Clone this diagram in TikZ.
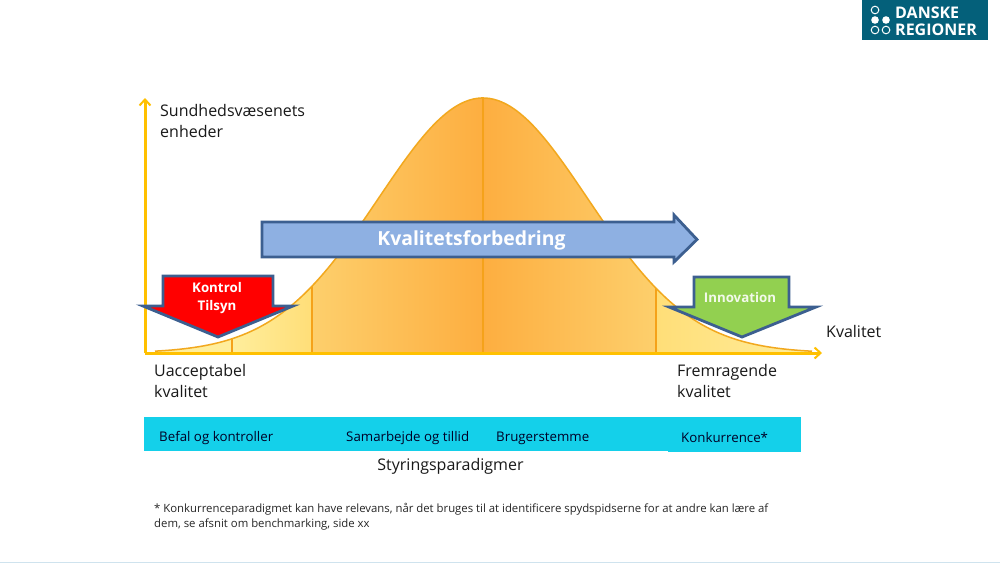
\documentclass[tikz,border=0pt]{standalone}
\usepackage{fontspec}
\setmainfont{Open Sans}
\usetikzlibrary{arrows.meta}
\definecolor{axisY}{HTML}{FFC000}
\definecolor{curveO}{HTML}{F2A81E}
\definecolor{divO}{HTML}{F5A21A}
\definecolor{paleY}{HTML}{FFEE9C}
\definecolor{midY}{HTML}{FFDE78}
\definecolor{midO}{HTML}{FDCF6C}
\definecolor{deepO}{HTML}{FDAE40}
\definecolor{blueF}{HTML}{8EB0E2}
\definecolor{blueE}{HTML}{3C5F90}
\definecolor{greenF}{HTML}{92D050}
\definecolor{cyanB}{HTML}{14D0EA}
\definecolor{logoB}{HTML}{04607A}
\definecolor{baseL}{HTML}{CFE3EE}
\tikzset{
  lbl/.style={anchor=north west,align=left,inner sep=0pt,font=\fontsize{16}{21}\selectfont,text=black!90},
  barlbl/.style={anchor=west,inner sep=0pt,font=\fontsize{13.3}{14}\selectfont,text=black!85!blue},
  foot/.style={anchor=north west,align=left,inner sep=0pt,font=\fontsize{11.35}{15}\selectfont,text=black!85},
  axisline/.style={draw=axisY,line width=3pt,-{Straight Barb[length=6pt,width=11pt,line width=2pt]}},
  divider/.style={draw=divO,line width=1.5pt},
  blockarrow/.style={draw=blueE,line width=2.8pt,miter limit=10},
  whitebold/.style={text=white,font=\bfseries,inner sep=0pt},
}
\begin{document}
\begin{tikzpicture}[x=1pt,y=-1pt]
\useasboundingbox (0,0) rectangle (1000,563);
\fill[white] (0,0) rectangle (1000,563);
% logo
\node[fill=logoB,minimum width=126pt,minimum height=40pt,inner sep=0pt] (logo) at (925,20) {};
\node[anchor=west,inner sep=0pt,text=white,align=left,font=\fontsize{16}{17}\selectfont\bfseries] (logotext) at (895,21.5) {DANSKE\\REGIONER};
\foreach \cx/\cy/\st in {875/10/draw,875/20/fill,886/20/fill,875/30/draw,886/30/draw}{
  \path[\st=white,line width=1pt] (\cx,\cy) circle (3.8);
}
% bell curve
\begin{scope}
\clip plot[domain=155:812,samples=160,smooth] (\x,{353-255*exp(-0.5*((\x-483)/104.5)*((\x-483)/104.5))}) -- (812,353) -- (155,353) -- cycle;
\fill[paleY] (150,90) rectangle (232,353);
\shade[left color=paleY,right color=midY] (232,90) rectangle (312,353);
\shade[left color=midO,right color=deepO] (312,90) rectangle (483,353);
\shade[left color=deepO,right color=midO] (483,90) rectangle (656,353);
\shade[left color=midY,right color=paleY] (656,90) rectangle (812,353);
\foreach \dx in {232,312,483,656}{ \draw[divider] (\dx,90) -- (\dx,353); }
\end{scope}
\draw[curveO,line width=1.5pt] plot[domain=155:812,samples=160,smooth] (\x,{353-255*exp(-0.5*((\x-483)/104.5)*((\x-483)/104.5))});
% axes
\coordinate (origin) at (145,353);
\coordinate (ytop) at (145,98);
\coordinate (xend) at (822,353);
\draw[axisline] (origin) -- (ytop);
\draw[axisline] (origin) -- (xend);
% quality arrow
\draw[blockarrow,fill=blueF] (262,222) -- (674,222) -- (674,215) -- (697,239.5) -- (674,262) -- (674,257) -- (262,257) -- cycle;
\node[whitebold,font=\fontsize{19.4}{20}\selectfont\bfseries] (kval) at (471.5,240.5) {Kvalitetsforbedring};
% kontrol arrow
\draw[blockarrow,fill=red] (163,276) -- (273,276) -- (273,306) -- (293,306) -- (218,337) -- (143,306) -- (163,306) -- cycle;
\node[whitebold,align=center,font=\fontsize{13.3}{18.5}\selectfont\bfseries] (kontrol) at (217,298) {Kontrol\\Tilsyn};
% innovation arrow
\draw[blockarrow,fill=greenF] (694,277) -- (789,277) -- (789,307) -- (816,307) -- (742,337) -- (669,307) -- (694,307) -- cycle;
\node[whitebold,text=white!88!greenF,font=\fontsize{13.3}{14}\selectfont\bfseries] (innov) at (740,298) {Innovation};
% labels
\node[lbl] (yl) at (160,104) {Sundhedsvæsenets\\enheder};
\node[lbl] (xl) at (826,325) {Kvalitet};
\node[lbl] (ua) at (154,364.5) {Uacceptabel\\kvalitet};
\node[lbl] (fr) at (677,364.5) {Fremragende\\kvalitet};
% paradigm bar
\fill[cyanB] (144,417) rectangle (801,451);
\fill[cyanB] (668,417) rectangle (801,452);
\node[barlbl] (p1) at (159,438) {Befal og kontroller};
\node[barlbl] (p2) at (346,438) {Samarbejde  og tillid};
\node[barlbl] (p3) at (496,438) {Brugerstemme};
\node[barlbl] (p4) at (681,438) {Konkurrence*};
\node[anchor=center,inner sep=0pt,font=\fontsize{16}{16}\selectfont,text=black!90] (sty) at (450.5,466) {Styringsparadigmer};
% footnote
\node[foot] (fn) at (154,503.5) {* Konkurrenceparadigmet kan have relevans, når det bruges til at identificere spydspidserne for at andre kan lære af\\dem,  se afsnit om benchmarking, side xx};
% base line
\fill[baseL] (0,561.5) rectangle (1000,563);
\end{tikzpicture}
\end{document}
